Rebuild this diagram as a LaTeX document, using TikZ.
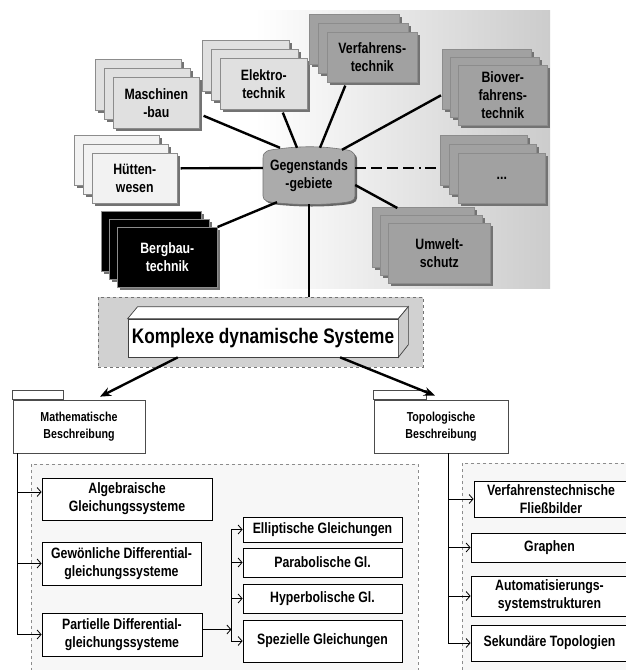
\documentclass[tikz,border=0pt]{standalone}
\usepackage{fontspec}
\newfontfamily\nf[FakeStretch=0.82]{Liberation Sans Bold}
\usetikzlibrary{arrows.meta,calc,shadows}
\newcommand\layer[5]{%
  \fill[shd] ({#1+3},{#2+3}) rectangle ({#3+3},{#4+3});
  \filldraw[lay=#5] ({#1},{#2}) rectangle ({#3},{#4});}
\newcommand\stk[9]{%
  \layer{#2-2*#6}{#3-2*#6}{#2-2*#6+#4}{#3-2*#6+#5}{#7}
  \layer{#2-#6}{#3-#6}{#2-#6+#4}{#3-#6+#5}{#7}
  \fill[shd] ({#2+3},{#3+3}) rectangle ({#2+#4+3},{#3+#5+3});
  \node[stackbox, fill=#7, text=#8, minimum width=#4pt, minimum height=#5pt] (#1) at (#2,#3) {#9};}
\begin{document}
\begin{tikzpicture}[x=1pt,y=-1pt,
  lay/.style={fill=#1, draw=black!45, line width=0.6pt},
  shd/.style={fill=black!55},
  stackbox/.style={draw=black!45, line width=0.6pt, inner sep=1pt, align=center,
    font=\nf\fontsize{15}{18}\selectfont, anchor=north west},
  conn/.style={line width=2.4pt},
  subbox/.style={draw=black, line width=0.8pt, fill=white, align=center,
    font=\nf\fontsize{15}{18}\selectfont, inner sep=0pt},
  folder/.style={draw=black!70, line width=0.7pt, fill=white, align=center,
    font=\nf\fontsize{13}{17}\selectfont, inner sep=0pt},
  tip/.style={-{Straight Barb[length=4pt,width=9pt]}, line width=0.8pt},
  bigarrow/.style={line width=2.4pt, -{Stealth[length=11pt,width=9pt]}},
  contbox/.style={fill=black!3, draw=black!45, dashed, line width=0.6pt},
]
\useasboundingbox (0,0) rectangle (626,670);
\clip (0,0) rectangle (626,670);
\fill[white] (0,0) rectangle (626,670);

% background gradient
\shade[left color=white, right color=black!20] (255,10) rectangle (550,288);

% stacks
\stk{masch}{113}{77}{86}{51}{9}{black!12}{black}{Maschinen\\-bau}
\stk{elek}{220}{58}{87}{51}{9}{black!12}{black}{Elektro-\\technik}
\stk{verf}{327}{32}{90}{50}{9}{black!37}{black}{Verfahrens-\\technik}
\stk{biov}{458}{65}{89}{60}{8}{black!37}{black}{Biover-\\fahrens-\\technik}
\stk{dots}{458}{153}{87}{50}{9}{black!37}{black}{...}
\stk{umw}{388}{223}{102}{60}{8}{black!37}{black}{Umwelt-\\schutz}
\stk{huett}{92}{153}{85}{50}{9}{black!5}{black}{H\"utten-\\wesen}
\stk{berg}{117}{227}{100}{60}{8}{black}{white}{Bergbau-\\technik}

% Gegenstandsgebiete
\fill[black!60] (265,198) -- (265,160) .. controls (265,153) and (270,152) .. (280,151)
  .. controls (302,148) and (322,148) .. (342,151) .. controls (352,152) and (357,153) .. (357,160)
  -- (357,198) .. controls (357,203) and (352,204) .. (342,205) .. controls (322,207) and (302,207) .. (280,205)
  .. controls (270,204) and (265,203) .. (265,198) -- cycle;
\filldraw[fill=black!33, draw=black!55, line width=0.6pt] (263,196) -- (263,158) .. controls (263,151) and (268,150) .. (278,149)
  .. controls (300,146) and (320,146) .. (340,149) .. controls (350,150) and (355,151) .. (355,158)
  -- (355,196) .. controls (355,201) and (350,202) .. (340,203) .. controls (320,205) and (300,205) .. (278,203)
  .. controls (268,202) and (263,201) .. (263,196) -- cycle;
\node[align=center, font=\nf\fontsize{15}{18}\selectfont, minimum width=92pt, minimum height=56pt, inner sep=0pt]
  (gegen) at (309,176) {Gegenstands\\-gebiete};

% star connectors
\draw[conn] ([xshift=4pt,yshift=-13pt]masch.east) -- ([xshift=-29pt]gegen.north);
\draw[conn] ([xshift=19pt,yshift=-3pt]elek.south) -- ([xshift=-12pt]gegen.north);
\draw[conn] ([xshift=-27pt,yshift=-3pt]verf.south) -- ([xshift=11pt]gegen.north);
\draw[conn] ([xshift=-17pt]biov.west) -- ([xshift=33pt,yshift=-2pt]gegen.north);
\coordinate (dotsin) at ([xshift=-17pt]dots.west);
\coordinate (dl) at ([yshift=8pt]gegen.east);
\draw[line width=2.6pt, dash pattern=on 11pt off 5pt on 11pt off 5pt on 11pt off 5pt on 11pt off 5pt on 2pt off 4pt] (dl) -- (dl -| dotsin);
\draw[conn] ([yshift=-9pt]gegen.east) -- ([xshift=-42pt,yshift=15pt]umw.north);
\draw[conn] ([xshift=3pt,yshift=10pt]huett.east) -- ([yshift=8pt]gegen.west);
\draw[conn] (berg.north east) -- ([xshift=-32pt,yshift=2pt]gegen.south);

% Komplexe dynamische Systeme
\node[fill=black!18, draw=black!55, dashed, line width=0.6pt, minimum width=325pt, minimum height=70pt, inner sep=0pt]
  (kcont) at (260.5,332) {};
\draw[conn] (gegen.south) -- (gegen.south |- kcont.north);
\node[draw=black!75, line width=0.7pt, fill=white, minimum width=270pt, minimum height=38pt, inner sep=0pt,
  font=\nf\fontsize{21}{24}\selectfont] (komplex) at (263,338) {Komplexe dynamische Systeme};
\filldraw[fill=white, draw=black!75, line width=0.7pt] (komplex.north west) -- ++(10,-12)
  -- ($(komplex.north east)+(10,-12)$) -- (komplex.north east) -- cycle;
\filldraw[fill=black!20, draw=black!75, line width=0.7pt] (komplex.north east) -- ++(10,-12) -- ++(0,38)
  -- (komplex.south east) -- cycle;

% lower containers
\filldraw[contbox] (31,464) rectangle (418,680);
\filldraw[contbox] (462,463) rectangle (650,680);

% folders
\node[folder, minimum width=132pt, minimum height=53pt] (math) at (79,426.5) {Mathematische\\Beschreibung};
\filldraw[fill=white, draw=black!70, line width=0.7pt] (math.north west) rectangle ++(51,-9);
\node[folder, minimum width=134pt, minimum height=53pt] (topo) at (441,426.5) {Topologische\\Beschreibung};
\filldraw[fill=white, draw=black!70, line width=0.7pt] (topo.north west) rectangle ++(53,-9);

\draw[bigarrow] ($(komplex.south west)!0.185!(komplex.south east)$) -- ([xshift=21pt,yshift=3pt]math.north);
\draw[bigarrow] ($(komplex.south west)!0.785!(komplex.south east)$) -- ([xshift=-6pt,yshift=4pt]topo.north);

% math boxes
\node[subbox, minimum width=170pt, minimum height=42pt] (alg) at (127,499) {Algebraische\\Gleichungssysteme};
\node[subbox, minimum width=159pt, minimum height=43pt] (gew) at (121.5,563.5) {Gew\"onliche Differential-\\gleichungssysteme};
\node[subbox, minimum width=160pt, minimum height=43pt] (part) at (122,634.5) {Partielle Differential-\\gleichungssysteme};
\node[subbox, minimum width=159pt, minimum height=25pt] (ell) at (322.5,529.5) {Elliptische Gleichungen};
\node[subbox, minimum width=159pt, minimum height=29pt] (par) at (322.5,562.5) {Parabolische Gl.};
\node[subbox, minimum width=159pt, minimum height=29pt] (hyp) at (322.5,598.5) {Hyperbolische Gl.};
\node[subbox, minimum width=159pt, minimum height=42pt] (spez) at (322.5,641) {Spezielle Gleichungen};

\coordinate (mt) at ($(math.south west)+(5,0)$);
\coordinate (algin) at ([yshift=7pt]alg.west);
\draw[tip] (mt) -- (mt |- part.west) -- (part.west);
\draw[tip] (mt |- algin) -- (algin);
\draw[tip] (mt |- gew.west) -- (gew.west);
\coordinate (pt) at ($(part.east)+(29,0)$);
\draw[tip] ([yshift=5pt]part.east) -- ([yshift=5pt]pt);
\draw[line width=0.8pt] (pt |- ell.west) -- (pt |- spez.west);
\draw[tip] (pt |- ell.west) -- (ell.west);
\draw[tip] (pt |- par.west) -- (par.west);
\draw[tip] (pt |- hyp.west) -- (hyp.west);
\draw[tip] (pt |- spez.west) -- (spez.west);

% topo boxes
\node[subbox, minimum width=154pt, minimum height=36pt] (vfb) at (551,499) {Verfahrenstechnische\\Flie\ss bilder};
\node[subbox, minimum width=157pt, minimum height=29pt] (gra) at (549.5,547.5) {Graphen};
\node[subbox, minimum width=157pt, minimum height=40pt] (aut) at (549.5,596) {Automatisierungs-\\systemstrukturen};
\node[subbox, minimum width=157pt, minimum height=36pt] (sek) at (549.5,643) {Sekund\"are Topologien};

\coordinate (tt) at ($(topo.south west)+(75,0)$);
\draw[tip] (tt) -- (tt |- sek.west) -- (sek.west);
\draw[tip] (tt |- vfb.west) -- (vfb.west);
\draw[tip] (tt |- gra.west) -- (gra.west);
\draw[tip] (tt |- aut.west) -- (aut.west);
\end{tikzpicture}
\end{document}
